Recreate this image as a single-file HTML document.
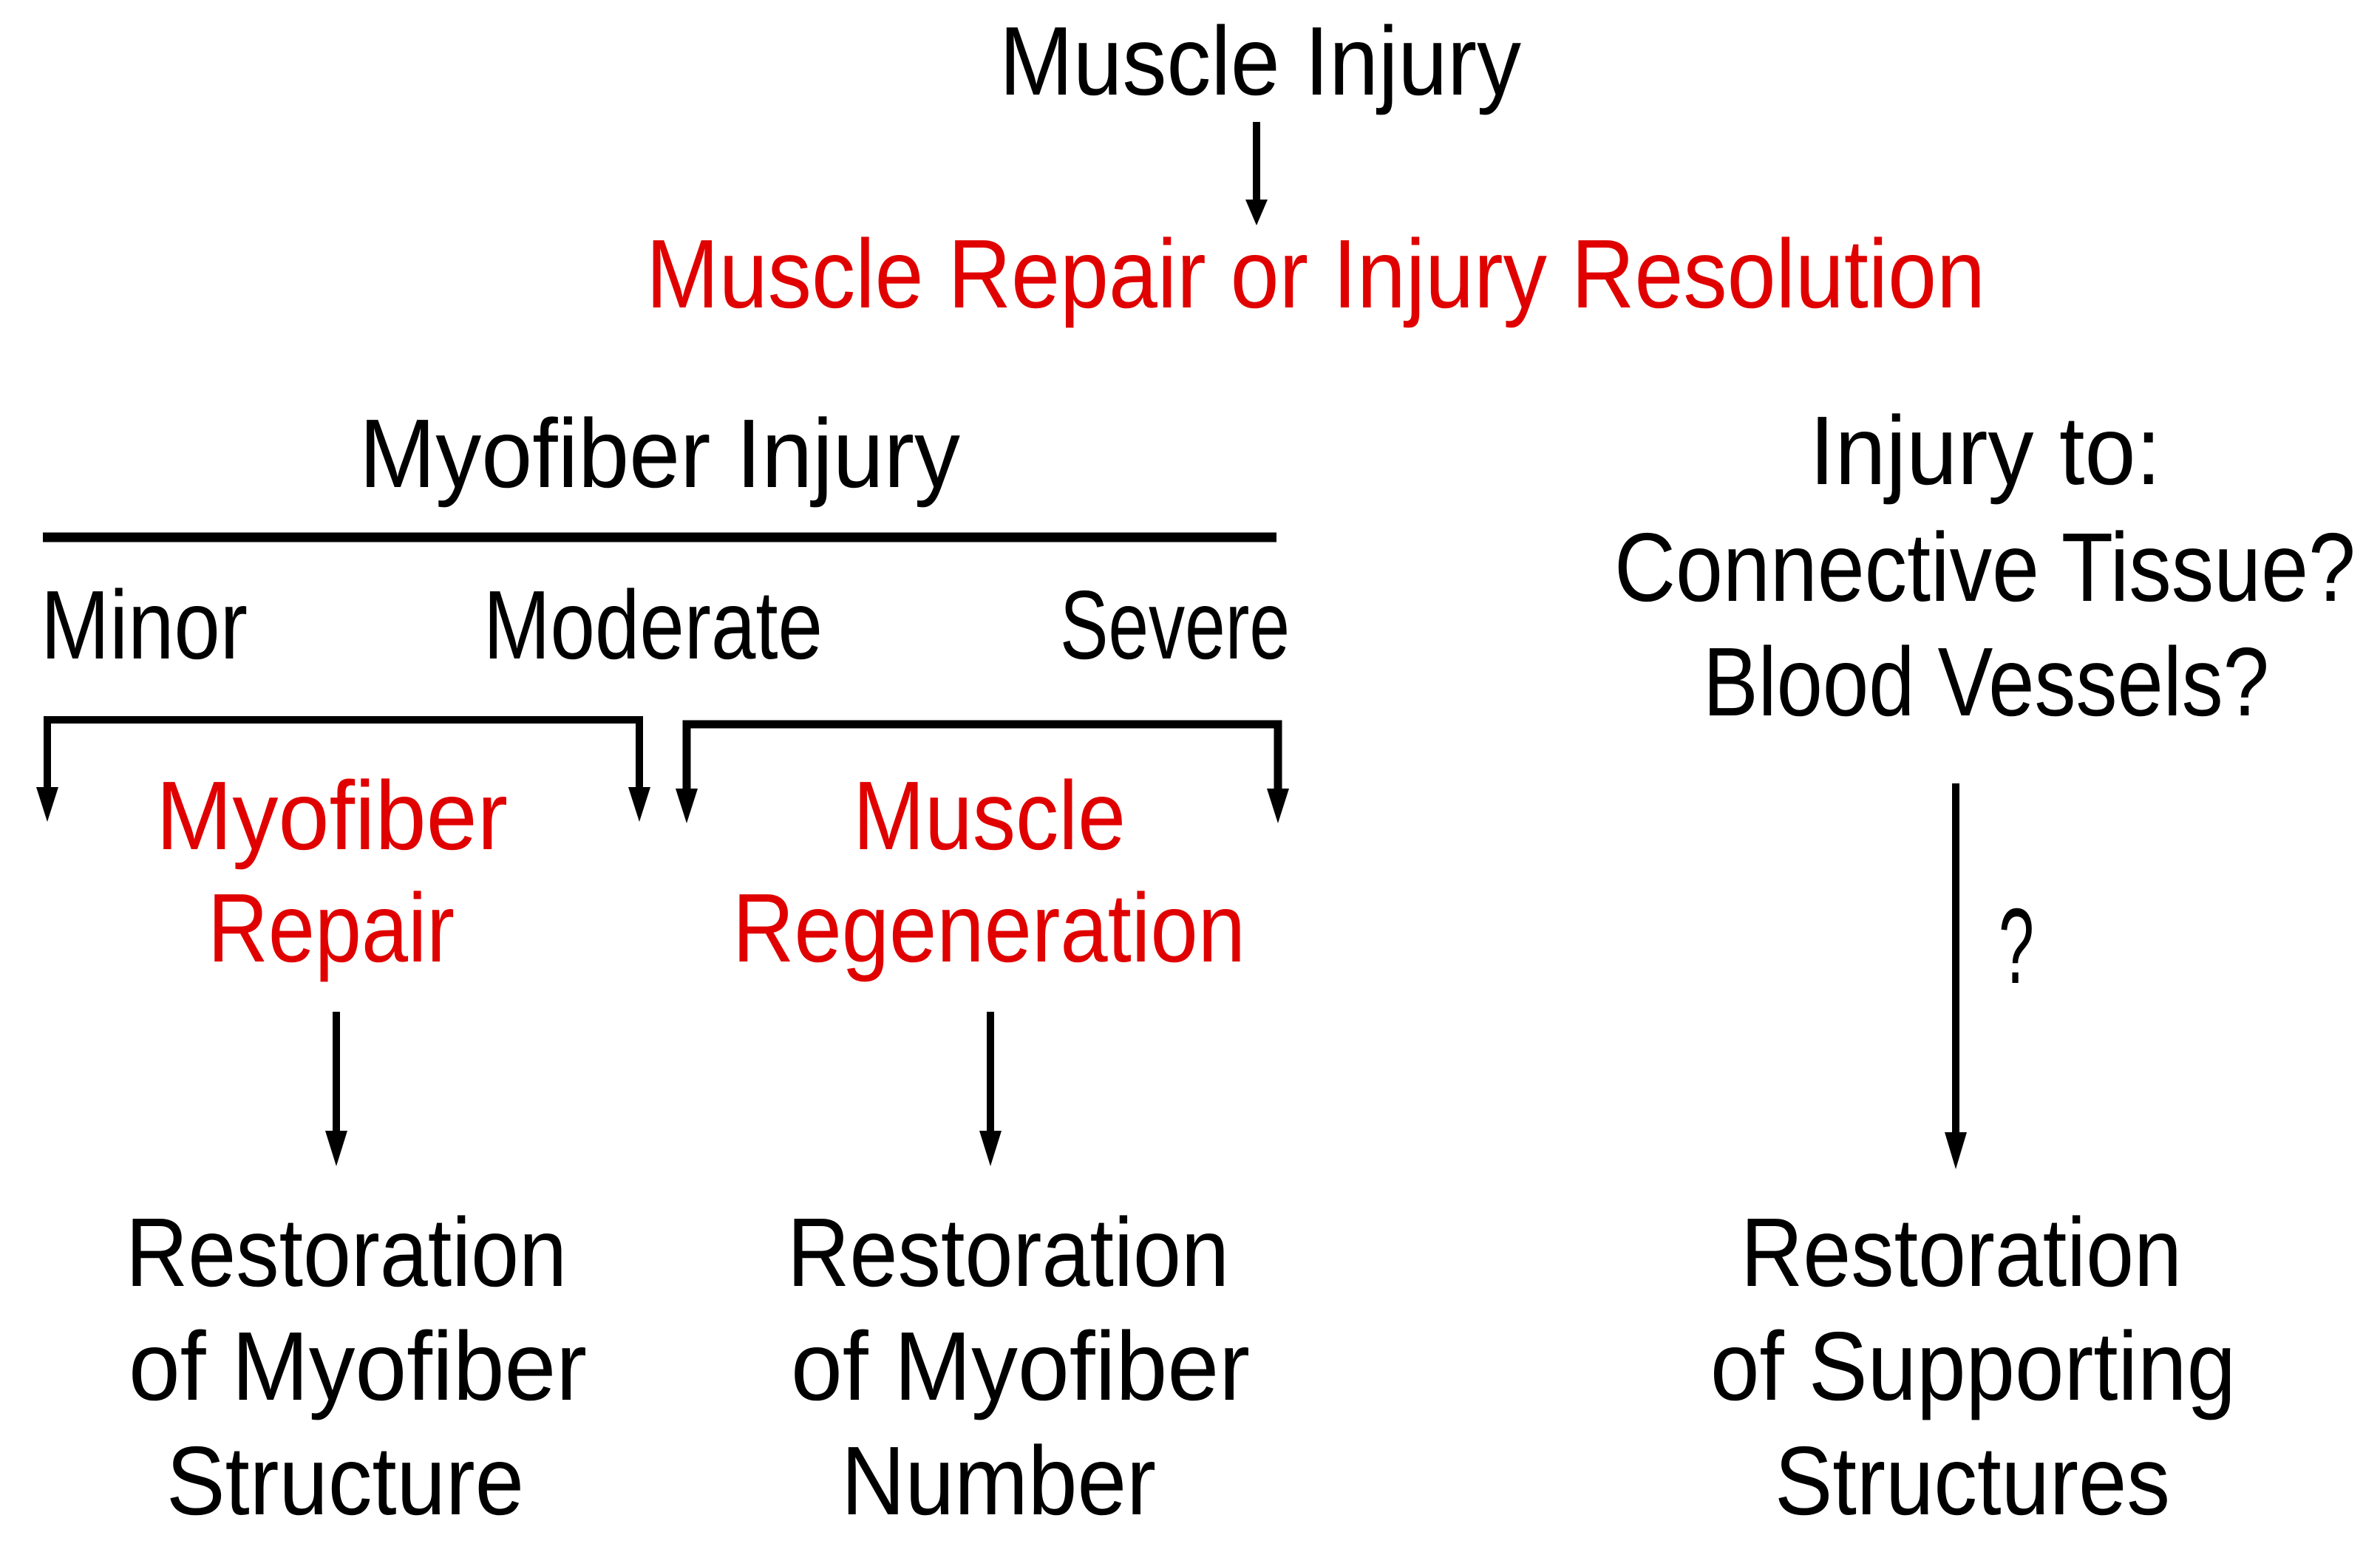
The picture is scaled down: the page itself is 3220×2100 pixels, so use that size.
<!DOCTYPE html>
<html><head><meta charset="utf-8"><style>html,body{margin:0;padding:0;background:#fff}svg{display:block}</style></head>
<body>
<svg width="3220" height="2100" viewBox="0 0 3220 2100" xmlns="http://www.w3.org/2000/svg" font-family="Liberation Sans, sans-serif" font-size="132">
<g fill="#000">
<text x="1352" y="128" textLength="706" lengthAdjust="spacingAndGlyphs">Muscle Injury</text>
<text x="486" y="659" textLength="813" lengthAdjust="spacingAndGlyphs">Myofiber Injury</text>
<text x="55" y="891" textLength="280" lengthAdjust="spacingAndGlyphs">Minor</text>
<text x="654" y="891" textLength="459" lengthAdjust="spacingAndGlyphs">Moderate</text>
<text x="1434" y="891" textLength="311" lengthAdjust="spacingAndGlyphs">Severe</text>
<text x="2448" y="655" textLength="476" lengthAdjust="spacingAndGlyphs">Injury to:</text>
<text x="2184" y="813" textLength="1003" lengthAdjust="spacingAndGlyphs">Connective Tissue?</text>
<text x="2304" y="968" textLength="766" lengthAdjust="spacingAndGlyphs">Blood Vessels?</text>
<text x="2704" y="1330" font-size="145" textLength="48" lengthAdjust="spacingAndGlyphs">?</text>
<text x="170" y="1740" textLength="597" lengthAdjust="spacingAndGlyphs">Restoration</text>
<text x="174" y="1894" textLength="620" lengthAdjust="spacingAndGlyphs">of Myofiber</text>
<text x="225" y="2049" textLength="484" lengthAdjust="spacingAndGlyphs">Structure</text>
<text x="1065" y="1740" textLength="598" lengthAdjust="spacingAndGlyphs">Restoration</text>
<text x="1070" y="1894" textLength="621" lengthAdjust="spacingAndGlyphs">of Myofiber</text>
<text x="1138" y="2049" textLength="426" lengthAdjust="spacingAndGlyphs">Number</text>
<text x="2355" y="1740" textLength="597" lengthAdjust="spacingAndGlyphs">Restoration</text>
<text x="2314" y="1894" textLength="711" lengthAdjust="spacingAndGlyphs">of Supporting</text>
<text x="2401" y="2049" textLength="535" lengthAdjust="spacingAndGlyphs">Structures</text>
</g>
<g fill="#e00000">
<text x="874" y="416" textLength="1812" lengthAdjust="spacingAndGlyphs">Muscle Repair or Injury Resolution</text>
<text x="211" y="1149" textLength="476" lengthAdjust="spacingAndGlyphs">Myofiber</text>
<text x="281" y="1301" textLength="334" lengthAdjust="spacingAndGlyphs">Repair</text>
<text x="1154" y="1149" textLength="369" lengthAdjust="spacingAndGlyphs">Muscle</text>
<text x="991" y="1301" textLength="694" lengthAdjust="spacingAndGlyphs">Regeneration</text>
</g>
<g stroke="#000" fill="none">
<line x1="58" y1="727" x2="1727" y2="727" stroke-width="13"/>
<polyline points="64,1080 64,974 865,974 865,1080" stroke-width="10"/>
<polyline points="929,1080 929,980 1729,980 1729,1080" stroke-width="11"/>
<line x1="1700" y1="165" x2="1700" y2="275" stroke-width="10"/>
<line x1="455" y1="1369" x2="455" y2="1540" stroke-width="10"/>
<line x1="1340" y1="1369" x2="1340" y2="1540" stroke-width="10"/>
<line x1="2646" y1="1060" x2="2646" y2="1545" stroke-width="10"/>
</g>
<g fill="#000">
<polygon points="1685,270 1715,270 1700,305"/>
<polygon points="49,1065 79,1065 64,1112"/>
<polygon points="850,1065 880,1065 865,1112"/>
<polygon points="914,1067 944,1067 929,1114"/>
<polygon points="1714,1067 1744,1067 1729,1114"/>
<polygon points="440,1530 470,1530 455,1578"/>
<polygon points="1325,1530 1355,1530 1340,1578"/>
<polygon points="2631,1532 2661,1532 2646,1582"/>
</g>
</svg>
</body></html>
